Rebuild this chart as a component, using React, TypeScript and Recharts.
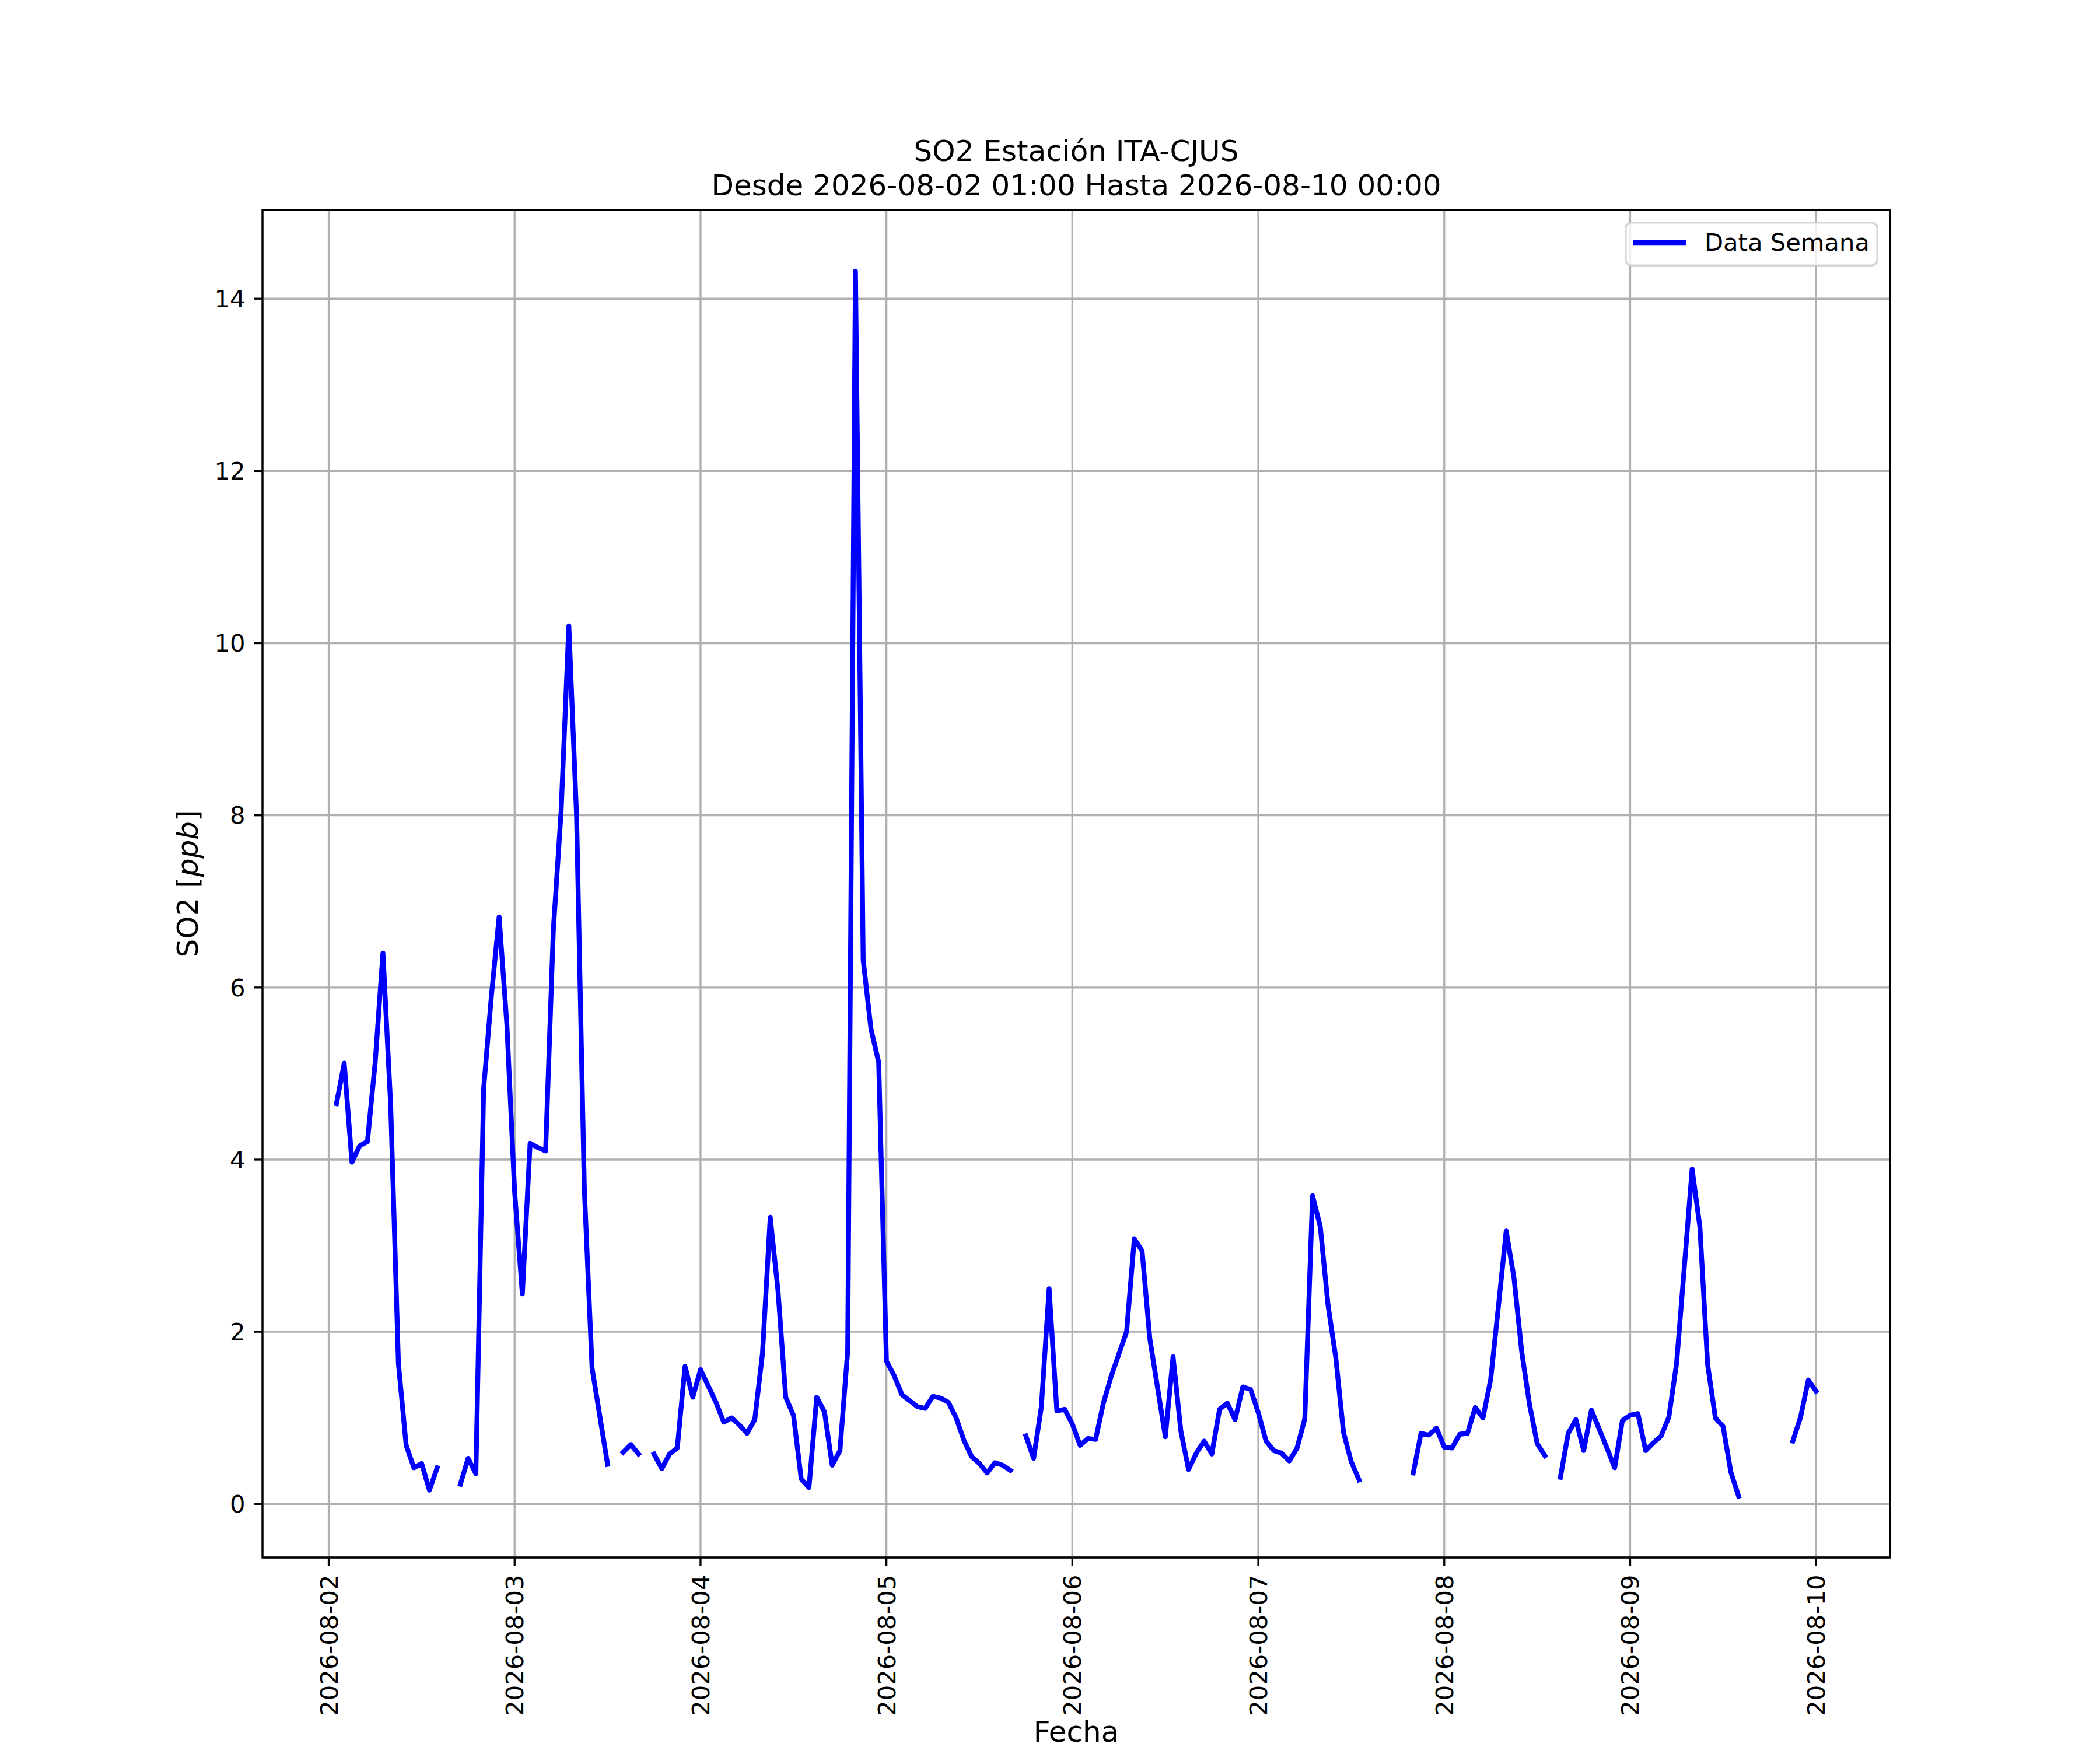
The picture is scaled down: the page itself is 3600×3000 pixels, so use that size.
import { LineChart, Line, XAxis, YAxis, CartesianGrid, ReferenceArea, Legend } from "recharts";

const FONT = "DejaVu Sans";

const title = "SO2 Estación ITA-CJUS";
const subtitle = "Desde 2026-08-02 01:00 Hasta 2026-08-10 00:00";
const seriesName = "Data Semana";

// one tick per day, labels as printed under the x axis
const dayLabels = [
  "2026-08-02", "2026-08-03", "2026-08-04", "2026-08-05", "2026-08-06",
  "2026-08-07", "2026-08-08", "2026-08-09", "2026-08-10",
];
const yTicks = [0, 2, 4, 6, 8, 10, 12, 14];

// hourly SO2 (ppb), index = hour of the day, null = missing reading
const so2Aug02 = [null, 4.65, 5.12, 3.97, 4.16, 4.21, 5.13, 6.4, 4.63, 1.63, 0.68, 0.42, 0.47, 0.16, 0.42, null, null, 0.23, 0.53, 0.35, 4.82, 5.9, 6.82, 5.57];
const so2Aug03 = [3.63, 2.44, 4.19, 4.14, 4.1, 6.67, 8.04, 10.2, 7.99, 3.66, 1.58, 1.02, 0.46, null, 0.6, 0.69, 0.58, null, 0.58, 0.41, 0.58, 0.65, 1.6, 1.24];
const so2Aug04 = [1.56, 1.37, 1.18, 0.95, 1.0, 0.92, 0.82, 0.98, 1.75, 3.33, 2.48, 1.24, 1.03, 0.29, 0.19, 1.24, 1.07, 0.45, 0.62, 1.78, 14.32, 6.32, 5.52, 5.13];
const so2Aug05 = [1.66, 1.49, 1.27, 1.2, 1.13, 1.11, 1.25, 1.23, 1.18, 1.0, 0.74, 0.55, 0.47, 0.36, 0.48, 0.45, 0.39, null, 0.79, 0.53, 1.13, 2.5, 1.08, 1.1];
const so2Aug06 = [0.93, 0.68, 0.76, 0.75, 1.17, 1.48, 1.74, 2.0, 3.08, 2.94, 1.92, 1.35, 0.78, 1.71, 0.85, 0.4, 0.59, 0.73, 0.58, 1.1, 1.17, 0.98, 1.36, 1.33];
const so2Aug07 = [1.06, 0.73, 0.62, 0.59, 0.5, 0.65, 0.99, 3.58, 3.22, 2.31, 1.7, 0.83, 0.49, 0.28, null, null, null, null, null, null, 0.36, 0.82, 0.8, 0.88];
const so2Aug08 = [0.66, 0.65, 0.81, 0.82, 1.12, 1.0, 1.45, 2.3, 3.17, 2.63, 1.77, 1.16, 0.7, 0.56, null, 0.31, 0.82, 0.98, 0.62, 1.09, 0.87, 0.65, 0.42, 0.97];
const so2Aug09 = [1.03, 1.05, 0.62, 0.71, 0.79, 1.01, 1.64, 2.76, 3.89, 3.22, 1.62, 1.0, 0.9, 0.37, 0.09, null, null, null, null, null, null, 0.73, 1.01, 1.44];
const so2Aug10 = [1.31];

const days = [so2Aug02, so2Aug03, so2Aug04, so2Aug05, so2Aug06, so2Aug07, so2Aug08, so2Aug09, so2Aug10];

// t = hours since 2026-08-02 00:00
const rows = days.flatMap((vals, d) => vals.map((v, i) => ({ t: d * 24 + i, so2: v })));
const valid = rows.filter((r) => r.so2 !== null);

// matplotlib-style 5% auto margins
const tMin = Math.min(...valid.map((r) => r.t));
const tMax = Math.max(...valid.map((r) => r.t));
const vMin = Math.min(...valid.map((r) => r.so2 as number));
const vMax = Math.max(...valid.map((r) => r.so2 as number));
const xDomain: [number, number] = [tMin - 0.05 * (tMax - tMin), tMax + 0.05 * (tMax - tMin)];
const yDomain: [number, number] = [vMin - 0.05 * (vMax - vMin), vMax + 0.05 * (vMax - vMin)];
const xTicks = dayLabels.map((_, i) => i * 24);

function DateTick(props: any) {
  const { x, y, payload } = props;
  const label = dayLabels[Math.round(payload.value / 24)];
  return (
    <text
      x={x}
      y={y}
      dy="0.36em"
      transform={`rotate(-90, ${x}, ${y})`}
      textAnchor="end"
      fontFamily={FONT}
      fontSize={41.67}
      fill="#000"
    >
      {label}
    </text>
  );
}

function LegendBox() {
  return (
    <svg width={435} height={77} style={{ display: "block" }}>
      <rect x={1.75} y={1.75} width={431.5} height={73.5} rx={10} fill="#fff" fillOpacity={0.8} stroke="#ccc" strokeOpacity={0.8} strokeWidth={3.5} />
      <line x1={14} x2={105} y1={36} y2={36} stroke="#0000ff" strokeWidth={8.33} />
      <text x={137} y={50} fontFamily={FONT} fontSize={41.67} fill="#000">
        {seriesName}
      </text>
    </svg>
  );
}

export default function App() {
  return (
    <div style={{ position: "relative", width: 3600, height: 3000, background: "#fff" }}>
      <style>{"body{margin:0}"}</style>
      <LineChart
        width={3600}
        height={3000}
        data={rows}
        margin={{ top: 360, right: 360, bottom: 30, left: 350 }}
      >
        <CartesianGrid stroke="#b0b0b0" strokeWidth={3.33} />
        <XAxis
          type="number"
          dataKey="t"
          domain={xDomain}
          allowDataOverflow
          ticks={xTicks}
          interval={0}
          height={300}
          axisLine={false}
          tickSize={14.6}
          tickMargin={15}
          tickLine={{ stroke: "#000", strokeWidth: 3.33 }}
          tick={<DateTick />}
        />
        <YAxis
          type="number"
          domain={yDomain}
          allowDataOverflow
          ticks={yTicks}
          interval={0}
          width={100}
          axisLine={false}
          tickSize={14.6}
          tickMargin={15}
          tickLine={{ stroke: "#000", strokeWidth: 3.33 }}
          tick={{ fill: "#000", fontSize: 41.67, fontFamily: FONT }}
        />
        <Line
          type="linear"
          dataKey="so2"
          name={seriesName}
          stroke="#0000ff"
          strokeWidth={8.33}
          strokeLinejoin="round"
          strokeLinecap="square"
          dot={false}
          activeDot={false}
          connectNulls={false}
          isAnimationActive={false}
        />
        <ReferenceArea
          x1={xDomain[0]}
          x2={xDomain[1]}
          y1={yDomain[0]}
          y2={yDomain[1]}
          fill="none"
          fillOpacity={0}
          stroke="#000"
          strokeWidth={3.33}
          ifOverflow="visible"
        />
        <Legend
          layout="vertical"
          align="center"
          verticalAlign="middle"
          wrapperStyle={{ position: "absolute", left: 2785, top: 380, width: 435, height: 77 }}
          content={() => <LegendBox />}
        />
      </LineChart>
      <svg
        width={3600}
        height={3000}
        style={{ position: "absolute", left: 0, top: 0, pointerEvents: "none" }}
      >
        <g fontFamily={FONT} fill="#000">
          <text x={1845} y={276} textAnchor="middle" fontSize={50}>{title}</text>
          <text x={1845} y={335} textAnchor="middle" fontSize={50}>{subtitle}</text>
          <text x={1845} y={2986} textAnchor="middle" fontSize={50}>Fecha</text>
          <text x={339} y={1515} textAnchor="middle" fontSize={50} transform="rotate(-90, 339, 1515)">
            SO2 [<tspan fontStyle="italic">ppb</tspan>]
          </text>
        </g>
      </svg>
    </div>
  );
}
